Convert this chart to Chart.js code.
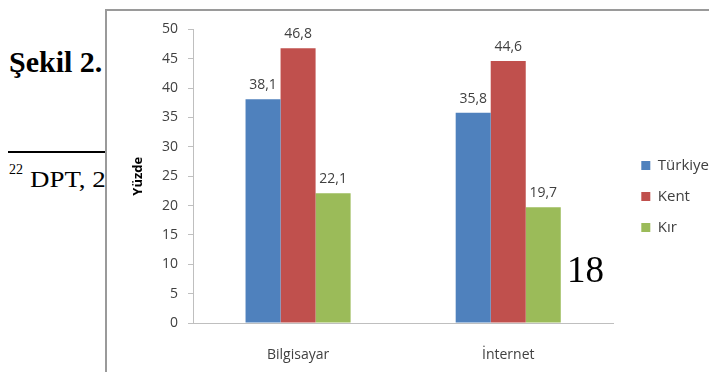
<!DOCTYPE html>
<html>
<head>
<meta charset="utf-8">
<script src="https://cdn.jsdelivr.net/npm/chart.js@4"></script>
<style>
  html, body { margin: 0; padding: 0; background: #fff; width: 709px; height: 372px; overflow: hidden; position: relative; }
  .pg { position: absolute; font-family: "Liberation Serif", "Times New Roman", serif; color: #000; white-space: nowrap; transform-origin: left top; }
  #box { position: absolute; left: 105px; top: 9px; width: 640px; height: 400px; border: 2px solid #9a9a9a; background: #fff; z-index: 2; }
  #box canvas { position: absolute; left: 0; top: 0; }
</style>
</head>
<body>
<div class="pg" style="left:9px; top:47px; font-size:30px; line-height:30px; font-weight:bold;">Şekil 2.</div>
<div style="position:absolute; left:8px; top:151px; width:110px; height:2px; background:#000;"></div>
<div class="pg" style="left:9px; top:163px; font-size:14px; line-height:14px;">22</div>
<div class="pg" style="left:30px; top:168px; font-size:23px; line-height:23px; transform:scaleX(1.17);">DPT, 2008</div>
<div id="box"><canvas id="chart" width="620" height="361"></canvas></div>
<div class="pg" style="left:567px; top:251px; font-size:37px; line-height:37px; z-index:3;">18</div>

<script>
// veri
const categories = ["Bilgisayar", "İnternet"];
const seriesNames = ["Türkiye", "Kent", "Kır"];
const turkiye = [38.1, 35.8];
const kent    = [46.8, 44.6];
const kir     = [22.1, 19.7];
const yTicks  = [0, 5, 10, 15, 20, 25, 30, 35, 40, 45, 50];

const colors = ["#4F81BD", "#C0504D", "#9BBB59"];
const labelFont = { family: "'Open Sans', sans-serif", size: 14 };

// bar ustune deger yaz (virgul ile)
const valueLabels = {
  id: 'valueLabels',
  afterDatasetsDraw(chart) {
    const ctx = chart.ctx;
    ctx.save();
    ctx.font = "14px 'Open Sans', sans-serif";
    ctx.fillStyle = '#404040';
    ctx.textAlign = 'center';
    ctx.textBaseline = 'alphabetic';
    chart.data.datasets.forEach((ds, i) => {
      chart.getDatasetMeta(i).data.forEach((bar, j) => {
        ctx.fillText(String(ds.data[j]).replace('.', ','), bar.x, bar.y - 10);
      });
    });
    ctx.restore();
  }
};

// legend'i grafik alanindan biraz uzaga, biraz yukari al
const legendShift = {
  id: 'legendShift',
  afterLayout(chart) {
    const lg = chart.legend;
    const w = lg.width;
    lg.left = chart.chartArea.right + 12;
    lg.right = lg.left + w;
    lg.top -= 4; lg.bottom -= 4;
  }
};

new Chart(document.getElementById('chart'), {
  type: 'bar',
  data: {
    labels: categories,
    datasets: [
      { label: seriesNames[0], data: turkiye, backgroundColor: colors[0] },
      { label: seriesNames[1], data: kent,    backgroundColor: colors[1] },
      { label: seriesNames[2], data: kir,     backgroundColor: colors[2] }
    ]
  },
  options: {
    responsive: false,
    animation: false,
    devicePixelRatio: 1,
    datasets: { bar: { categoryPercentage: 0.5, barPercentage: 1 } },
    layout: { padding: { top: 18, right: 20, bottom: 0, left: 0 } },
    plugins: {
      tooltip: { enabled: false },
      legend: {
        position: 'right',
        labels: {
          boxWidth: 9, boxHeight: 9, padding: 16,
          color: '#404040',
          font: { family: "'Open Sans', sans-serif", size: 15 }
        }
      }
    },
    scales: {
      x: {
        grid: { display: false },
        border: { color: '#bfbfbf', width: 1 },
        ticks: { color: '#404040', font: labelFont, padding: 16 },
        afterFit(s) { s.height = 49; }
      },
      y: {
        min: 0, max: 50,
        afterBuildTicks(s) { s.ticks = yTicks.map(v => ({ value: v })); },
        grid: { drawOnChartArea: false, tickLength: 5, color: '#bfbfbf' },
        border: { color: '#bfbfbf', width: 1 },
        ticks: { color: '#404040', font: labelFont, padding: 10 },
        title: { display: true, text: 'Yüzde', color: '#000', font: { family: "'Open Sans', sans-serif", size: 13, weight: 'bold' }, padding: { top: 23, bottom: 0 } },
        afterFit(s) { s.width = 86; }
      }
    }
  },
  plugins: [valueLabels, legendShift]
});
</script>
</body>
</html>
